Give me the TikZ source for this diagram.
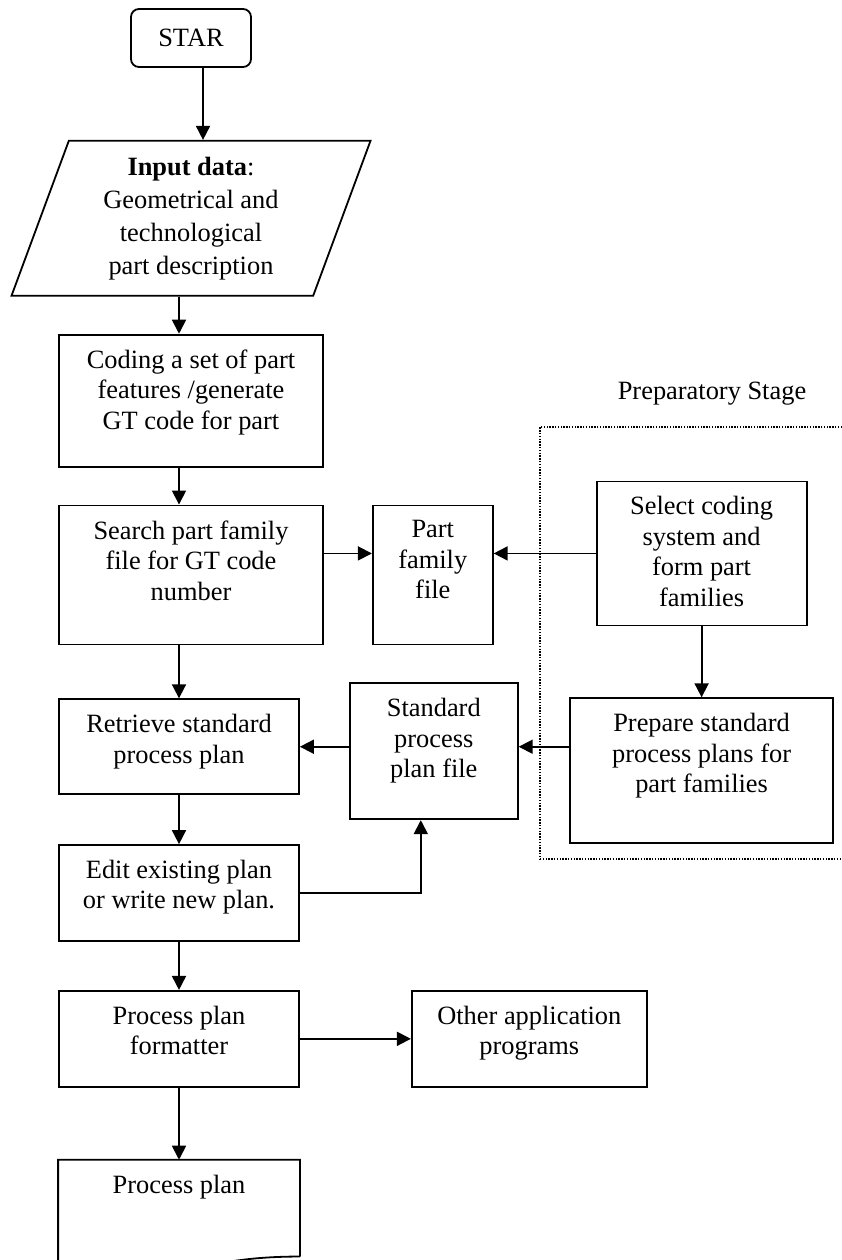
\documentclass[tikz,border=0pt]{standalone}
\usepackage{fontspec}
\setmainfont{Liberation Serif}
\usetikzlibrary{shapes.geometric, arrows.meta, positioning}

\begin{document}
\begin{tikzpicture}[x=1pt, y=1pt, line width=1.8pt,
        font=\fontsize{26.4}{30.5}\selectfont,
        block/.style = {
            rectangle,
            draw,
            inner sep=0pt
        },
        txt/.style = {
            anchor=north,
            align=center,
            inner sep=0pt,
            yshift=-15pt
        },
        arr/.style = {-{Triangle[length=14pt, width=14pt]}},
        stageframe/.style = {
            rectangle,
            draw,
            line width=1.3pt,
            dash pattern=on 1.4pt off 1.4pt
        }
    ]
    \useasboundingbox (0,0) rectangle (842,-1260);

    \node (star) [block, rounded corners=8pt, minimum width=120pt, minimum height=58pt] at (191,-38)
        {STAR};
    \node (input) [draw, trapezium, trapezium left angle=65, trapezium right angle=115,
        trapezium stretches body, minimum width=359pt, minimum height=155pt,
        inner sep=0pt, align=center, font=\fontsize{26.4}{33}\selectfont, below=72pt of star]
        {\textbf{Input data}:\\Geometrical and\\technological\\part description};
    \node (coding) [block, minimum width=264pt, minimum height=132pt, below=37pt of input,
        label={[txt]north:Coding a set of part\\features /generate\\GT code for part}] {};
    \node (search) [block, minimum width=264pt, minimum height=139pt, below=37pt of coding,
        label={[txt]north:Search part family\\file for GT code\\number}] {};
    \node (partfam) [block, minimum width=120pt, minimum height=139pt, right=48pt of search,
        label={[txt]north:Part\\family\\file}] {};

    \node (select) [block, minimum width=210pt, minimum height=144pt, right=102pt of partfam, yshift=21.5pt,
        label={[txt]north:Select coding\\system and\\form part\\families}] {};
    \node (prepare) [block, minimum width=262.5pt, minimum height=145pt, below=71pt of select,
        label={[txt]north:Prepare standard\\process plans for\\part families}] {};
    \node (stage) [stageframe, minimum width=320pt, minimum height=432pt] at (700,-643) {};
    \node (stage_title) [inner sep=0pt, above=20pt of stage, xshift=12pt] {Preparatory Stage};

    \node (retrieve) [block, minimum width=240pt, minimum height=95pt, below=53pt of search, xshift=-12pt,
        label={[txt]north:Retrieve standard\\process plan}] {};
    \node (standard) [block, minimum width=168pt, minimum height=136pt, right=49pt of retrieve, yshift=-4.5pt,
        label={[txt]north:Standard\\process\\plan file}] {};
    \node (edit) [block, minimum width=240pt, minimum height=96pt, below=49pt of retrieve,
        label={[txt]north:Edit existing plan\\or write new plan.}] {};
    \node (formatter) [block, minimum width=240pt, minimum height=96pt, below=48pt of edit,
        label={[txt]north:Process plan\\formatter}] {};
    \node (other) [block, minimum width=235pt, minimum height=96pt, right=111pt of formatter,
        label={[txt]north:Other application\\programs}] {};
    \node (doc) [inner sep=0pt, minimum width=240pt, minimum height=118.5pt, below=72pt of formatter,
        label={[txt]north:Process plan}] {};

    % document outline with wavy bottom
    \draw ([yshift=23.5pt]doc.south east) -- (doc.north east) -- (doc.north west)
        -- ([yshift=7.8pt]doc.south west)
        .. controls ([yshift=-12.7pt]doc.south) and ([yshift=23.5pt]doc.south) .. ([yshift=23.5pt]doc.south east);

    \draw[arr] ([xshift=12pt]star.south) -- ([xshift=12pt]star.south |- input.north);
    \draw[arr] ([xshift=-12pt]input.south) -- ([xshift=-12pt]coding.north);
    \draw[arr] ([xshift=-12pt]coding.south) -- ([xshift=-12pt]search.north);
    \draw[arr] (search.east |- select.west) -- (select.west -| partfam.west);
    \draw[arr] (select.west) -- (select.west -| partfam.east);
    \draw[arr] (select.south) -- (prepare.north);
    \draw[arr] (retrieve.east -| prepare.west) -- (retrieve.east -| standard.east);
    \draw[arr] (retrieve.east -| standard.west) -- (retrieve.east);
    \draw[arr] ([xshift=-12pt]search.south) -- (retrieve.north);
    \draw[arr] (retrieve.south) -- (edit.north);
    \draw[arr] (edit.east) -| ([xshift=-13pt]standard.south);
    \draw[arr] (edit.south) -- (formatter.north);
    \draw[arr] (formatter.east) -- (other.west);
    \draw[arr] (formatter.south) -- (doc.north);
\end{tikzpicture}
\end{document}
